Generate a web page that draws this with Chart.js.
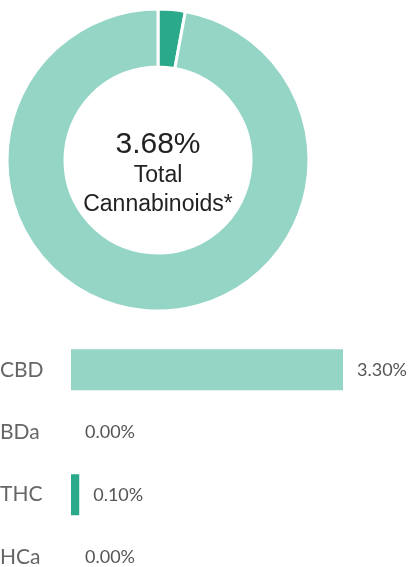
<!DOCTYPE html>
<html>
<head>
<meta charset="utf-8">
<script src="https://cdn.jsdelivr.net/npm/chart.js@4.4.1/dist/chart.umd.min.js"></script>
<style>
  html, body { margin: 0; padding: 0; width: 410px; height: 567px; overflow: hidden; background: #fff; }
  #donutBox { position: absolute; left: 0; top: 0; width: 316px; height: 320px; }
  #barBox { position: absolute; left: 0; top: 326px; width: 410px; height: 275px; }
</style>
</head>
<body>
<div id="donutBox"><canvas id="donut"></canvas></div>
<div id="barBox"><canvas id="bars"></canvas></div>
<script>
// ---- data ----
const totalLabel = "3.68%";
const centerLines = ["Total", "Cannabinoids*"];
const donutLabels = ["Total Cannabinoids", "Other"];
const donutValues = [2.9, 97.1];
const donutColors = ["#2aaa8a", "#95d5c6"];

const categories = ["CBD", "BDa", "THC", "HCa"];
const values = [3.30, 0.00, 0.10, 0.00];
const valueLabels = ["3.30%", "0.00%", "0.10%", "0.00%"];
const barColors = ["#95d5c6", "#95d5c6", "#2aaa8a", "#2aaa8a"];

// ---- donut ----
const centerText = {
  id: 'centerText',
  afterDraw(chart) {
    const {ctx, chartArea} = chart;
    const cx = (chartArea.left + chartArea.right) / 2;
    const cy = (chartArea.top + chartArea.bottom) / 2;
    ctx.save();
    ctx.fillStyle = '#222222';
    ctx.textAlign = 'center';
    ctx.textBaseline = 'alphabetic';
    ctx.font = '30px "Liberation Sans", Arial, sans-serif';
    ctx.fillText(totalLabel, cx, cy - 7);
    ctx.font = '23px "Liberation Sans", Arial, sans-serif';
    ctx.fillText(centerLines[0], cx, cy + 22);
    ctx.fillText(centerLines[1], cx, cy + 51);
    ctx.restore();
  }
};

new Chart(document.getElementById('donut'), {
  type: 'doughnut',
  data: {
    labels: donutLabels,
    datasets: [{
      data: donutValues,
      backgroundColor: donutColors,
      borderColor: '#ffffff',
      borderWidth: 3,
      hoverOffset: 0,
      offset: 0
    }]
  },
  options: {
    responsive: true,
    maintainAspectRatio: false,
    animation: false,
    radius: 151,
    cutout: '61.6%',
    layout: { padding: 0 },
    plugins: { legend: { display: false }, tooltip: { enabled: false } }
  },
  plugins: [centerText]
});

// ---- bars ----
const valueText = {
  id: 'valueText',
  afterDatasetsDraw(chart) {
    const {ctx} = chart;
    const meta = chart.getDatasetMeta(0);
    ctx.save();
    ctx.fillStyle = '#555555';
    ctx.font = '18px Lato, sans-serif';
    ctx.textAlign = 'left';
    ctx.textBaseline = 'middle';
    meta.data.forEach((el, i) => {
      ctx.fillText(valueLabels[i], el.x + 14, el.y);
    });
    ctx.restore();
  }
};

new Chart(document.getElementById('bars'), {
  type: 'bar',
  data: {
    labels: categories,
    datasets: [{
      data: values,
      backgroundColor: barColors,
      borderWidth: 0,
      categoryPercentage: 1.0,
      barPercentage: 0.658
    }]
  },
  options: {
    indexAxis: 'y',
    responsive: true,
    maintainAspectRatio: false,
    animation: false,
    layout: { padding: { left: 0, right: 9.3, top: 0, bottom: 0 } },
    scales: {
      x: { display: false, min: 0, max: 4 },
      y: {
        grid: { display: false },
        border: { display: false },
        ticks: {
          crossAlign: 'far',
          padding: 0,
          color: '#666666',
          font: { family: 'Lato', size: 21 }
        },
        afterFit(scale) { scale.width = 71; }
      }
    },
    plugins: { legend: { display: false }, tooltip: { enabled: false } }
  },
  plugins: [valueText]
});
</script>
</body>
</html>
